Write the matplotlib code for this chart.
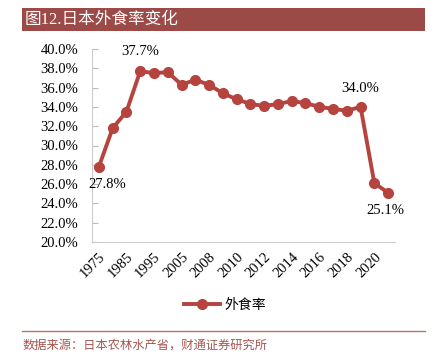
import matplotlib
matplotlib.use("Agg")
import matplotlib.pyplot as plt
from matplotlib.patches import Rectangle
from matplotlib.lines import Line2D
from matplotlib.ticker import FuncFormatter

years = ["1975", "1980", "1985", "1990", "1995", "2000", "2005", "2007", "2008", "2009", "2010",
         "2011", "2012", "2013", "2014", "2015", "2016", "2017", "2018", "2019", "2020", "2021"]
rates = [27.8, 31.8, 33.5, 37.7, 37.5, 37.6, 36.3, 36.8, 36.3, 35.4, 34.8,
         34.3, 34.1, 34.3, 34.6, 34.4, 34.0, 33.8, 33.6, 34.0, 26.1, 25.1]
tick_labels = ["1975", "1985", "1995", "2005", "2008", "2010", "2012", "2014", "2016", "2018", "2020"]
series_name = "外食率"
title = "图12.日本外食率变化"
source = "数据来源：日本农林水产省，财通证券研究所"

W, H = 439, 359
fig = plt.figure(figsize=(W / 100, H / 100), dpi=100)
plt.rcParams['font.family'] = ['Liberation Serif', 'Noto Sans CJK SC']

line_col = '#B5443F'
brown = '#9C4A47'
cjk = ['Noto Sans CJK SC', 'DejaVu Sans']
mixed = ['Liberation Serif', 'Noto Sans CJK SC']

# title bar
fig.patches.append(Rectangle((22 / W, 1 - 31 / H), (425 - 22) / W, 23 / H,
                             transform=fig.transFigure, facecolor=brown, edgecolor='none'))
fig.text(25 / W, 1 - 20 / H, title, color='white', fontsize=12, family=mixed, va='center', ha='left')

# footer
fig.lines.append(Line2D([22 / W, 425 / W], [1 - 331 / H, 1 - 331 / H], transform=fig.transFigure,
                        color='#C0706C', lw=1))
fig.text(23 / W, 1 - 345 / H, source, color='#A65550', fontsize=8.8, family=cjk, va='center', ha='left')

ax = fig.add_axes([92 / W, 1 - 242 / H, (395 - 92) / W, (242 - 49) / H])
x = list(range(len(years)))
ax.plot(x, rates, color=line_col, lw=2.8, marker='o', ms=7, label=series_name)
ax.set_xlim(-0.5, len(years) - 0.5)
ax.set_ylim(20, 40)
ax.set_yticks([20 + 2 * i for i in range(11)])
ax.yaxis.set_major_formatter(FuncFormatter(lambda v, p: f"{v:.1f}%"))
ax.tick_params(axis='y', direction='in', length=4, color='#BBBBBB', labelsize=10.5, pad=10)
pos = [years.index(t) for t in tick_labels]
ax.set_xticks(pos)
ax.set_xticklabels(tick_labels, rotation=45, ha='right', rotation_mode='anchor', fontsize=10.5)
ax.tick_params(axis='x', length=0, pad=6)
for s in ['top', 'right']:
    ax.spines[s].set_visible(False)
for s in ['left', 'bottom']:
    ax.spines[s].set_color('#CCCCCC')

# data labels
def lab(i, dx, dy):
    ax.annotate(f"{rates[i]:.1f}%", (x[i], rates[i]), xytext=(dx, dy), textcoords='offset points',
                ha='center', va='center', fontsize=10.5)

lab(0, 6, -12.5)
lab(3, 0, 14.5)
lab(19, 0, 13.5)
lab(21, -2, -13)

leg = fig.legend(handles=[Line2D([], [], color=line_col, lw=2.8, marker='o', ms=7)], labels=[series_name],
                 loc='center', bbox_to_anchor=(225 / W, 1 - 305 / H), frameon=False,
                 prop={'family': cjk, 'size': 10}, handlelength=2.6, handletextpad=0.3)

fig.savefig("out.png", dpi=100)
